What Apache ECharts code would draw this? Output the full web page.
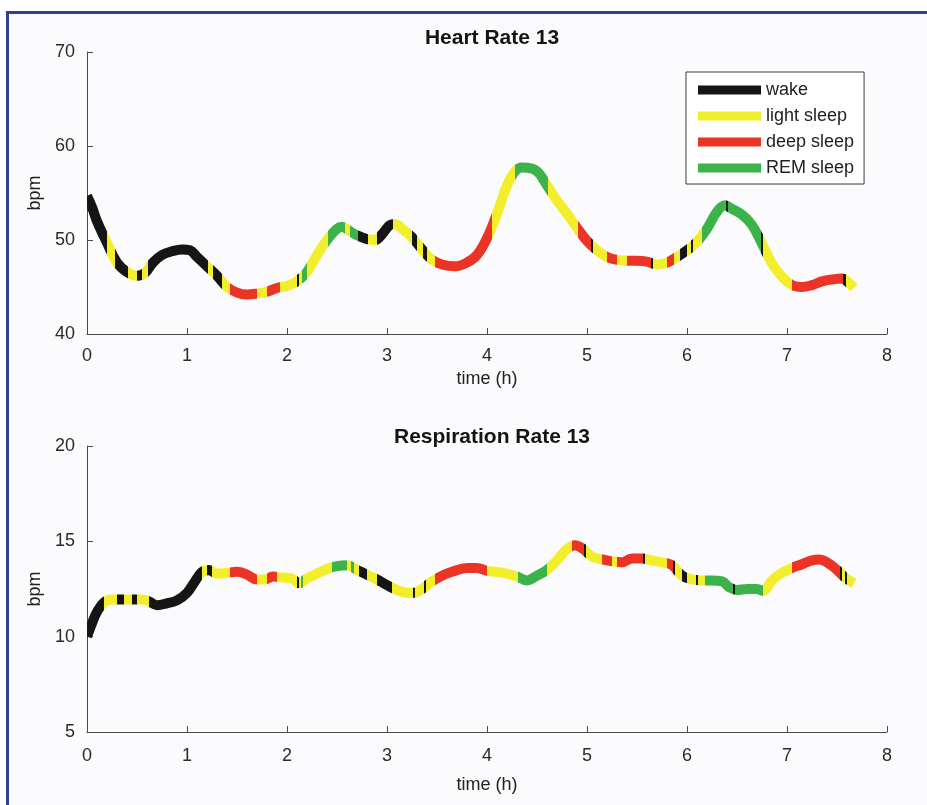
<!DOCTYPE html>
<html>
<head>
<meta charset="UTF-8">
<script src="https://cdn.jsdelivr.net/npm/echarts@6/dist/echarts.min.js"></script>
<style type="text/css">
body{ margin:0; background:#fff; }
#frame{
	position:absolute; left:6px; top:11px; width:930px; height:800px;
	border-top:3px solid #2d4392; border-left:3px solid #2d4392;
	background:#fbfbfd;
}
#main{ position:absolute; left:0; top:0; width:927px; height:805px; }
</style>
</head>
<body>
	<div id="frame"></div>
	<div id="main"></div>
	<script type="text/javascript">
		// 心率曲线 (时间 h, bpm)
		var hrTime = [0.00,0.05,0.10,0.20,0.30,0.40,0.50,0.58,0.66,0.75,0.85,0.95,1.03,1.10,1.20,1.30,1.40,1.50,1.60,1.70,
			1.80,1.90,2.00,2.10,2.20,2.30,2.40,2.50,2.55,2.62,2.70,2.80,2.88,2.95,3.03,3.08,3.15,3.25,3.35,3.45,
			3.55,3.68,3.80,3.90,4.00,4.10,4.20,4.28,4.35,4.45,4.52,4.60,4.70,4.80,4.90,5.00,5.10,5.20,5.30,5.40,
			5.50,5.60,5.70,5.80,5.90,6.00,6.10,6.20,6.30,6.38,6.45,6.55,6.65,6.75,6.85,6.95,7.05,7.15,7.25,7.35,
			7.45,7.55,7.62,7.67];
		var hrValue = [54.7,53.5,52.0,49.7,47.6,46.6,46.2,46.5,47.6,48.4,48.8,49.0,48.9,48.2,47.2,46.2,45.0,44.4,44.2,44.3,
			44.5,44.9,45.1,45.6,46.6,48.4,50.0,51.2,51.4,51.0,50.5,50.1,50.0,50.6,51.6,51.7,51.2,50.3,49.0,47.9,
			47.4,47.2,47.6,48.4,50.2,52.8,55.8,57.3,57.7,57.6,57.1,55.8,54.2,52.8,51.3,49.9,48.9,48.2,47.9,47.8,
			47.8,47.7,47.4,47.6,48.2,48.9,49.8,51.2,53.0,53.7,53.3,52.7,51.6,49.6,47.5,46.1,45.2,45.0,45.2,45.6,
			45.8,45.9,45.4,44.9];
		// 心率曲线的睡眠阶段：起始时间 + 阶段 (W 清醒, L 浅睡, D 深睡, R REM)
		var hrStageStart = [0,0.20,0.28,0.41,0.50,0.55,0.61,1.21,1.26,1.35,1.43,1.70,1.80,1.93,2.10,2.12,2.15,2.20,2.41,2.58,
			2.63,2.71,2.81,2.90,3.06,3.25,3.30,3.36,3.40,3.48,4.05,4.28,4.61,4.91,5.04,5.06,5.20,5.30,5.40,5.64,
			5.66,5.80,5.87,5.93,6.00,6.04,6.06,6.15,6.39,6.41,6.74,6.76,7.05,7.56,7.59];
		var hrStageType = ['W','L','W','L','W','L','W','L','W','L','D','L','D','L','W','L','R','L','R','L',
			'R','W','L','W','L','W','L','W','L','D','L','R','L','D','W','L','D','L','D','W',
			'L','D','L','W','L','W','L','R','W','R','W','L','D','W','L'];

		// 呼吸频率曲线
		var rrTime = [0.00,0.05,0.10,0.17,0.25,0.35,0.45,0.55,0.62,0.70,0.80,0.90,1.00,1.08,1.15,1.22,1.30,1.40,1.50,1.60,
			1.70,1.78,1.86,1.95,2.05,2.12,2.20,2.30,2.40,2.50,2.60,2.70,2.80,2.90,3.00,3.10,3.20,3.27,3.35,3.45,
			3.55,3.65,3.80,3.90,4.00,4.10,4.20,4.30,4.40,4.50,4.60,4.70,4.80,4.88,4.96,5.05,5.15,5.25,5.35,5.45,
			5.55,5.65,5.75,5.85,5.95,6.05,6.15,6.25,6.35,6.42,6.50,6.60,6.70,6.76,6.85,6.95,7.05,7.15,7.25,7.32,
			7.40,7.50,7.58,7.67];
		var rrValue = [10.0,10.7,11.3,11.8,11.95,11.95,11.95,11.95,11.85,11.65,11.75,11.9,12.3,12.9,13.4,13.5,13.3,13.35,13.4,13.25,
			13.0,13.0,13.15,13.1,13.05,12.8,13.05,13.3,13.55,13.7,13.75,13.5,13.25,13.0,12.7,12.45,12.3,12.3,12.5,12.9,
			13.2,13.4,13.6,13.6,13.45,13.4,13.3,13.15,12.95,13.2,13.5,14.0,14.6,14.8,14.6,14.2,14.05,13.95,13.9,14.1,
			14.1,14.0,13.9,13.75,13.2,13.0,12.95,12.95,12.9,12.6,12.45,12.5,12.5,12.4,12.95,13.35,13.6,13.8,14.0,14.05,
			13.9,13.5,13.1,12.8];
		var rrStageStart = [0,0.17,0.30,0.37,0.45,0.50,0.62,1.15,1.20,1.25,1.43,1.70,1.80,1.90,2.10,2.12,2.14,2.16,2.45,2.60,
			2.64,2.67,2.72,2.80,2.90,3.05,3.26,3.28,3.37,3.39,3.48,4.00,4.31,4.60,4.85,4.97,4.99,5.15,5.25,5.30,
			5.56,5.58,5.80,5.86,5.88,5.95,6.00,6.09,6.11,6.18,6.46,6.48,6.76,7.05,7.53,7.55,7.58,7.60];
		var rrStageType = ['W','L','W','L','W','L','W','L','W','L','D','L','D','L','W','L','R','L','R','L',
			'R','L','W','L','W','L','W','L','W','L','D','L','R','L','D','W','L','D','L','D',
			'W','L','D','W','L','W','L','W','L','R','W','R','L','D','W','L','W','L'];

		var stageNames = ['wake','light sleep','deep sleep','REM sleep'];
		var stageKeys = ['W','L','D','R'];
		var stageColor = {W:'#151515', L:'#f3ee2c', D:'#ec3426', R:'#3bb34a'};

		function toPoints(ts, vs){
			return ts.map(function(t,i){ return [t, vs[i]]; });
		}
		function stagePieces(starts, types){	//按阶段分段着色
			return starts.map(function(s,i){
				var p = {gte:s, color:stageColor[types[i]]};
				if(i < starts.length-1) p.lt = starts[i+1];
				return p;
			});
		}

		var axisColor = '#4a4a4a';
		var font = 'Liberation Sans, Arial, sans-serif';
		function xAx(grid, gap, margin){
			return {
				gridIndex:grid, type:'value', min:0, max:8, interval:1,
				name:'time (h)', nameLocation:'middle', nameGap:gap,
				nameTextStyle:{fontSize:18, color:'#222', fontFamily:font},
				axisLine:{lineStyle:{color:axisColor, width:1}},
				axisTick:{inside:true, length:6, lineStyle:{color:axisColor}},
				axisLabel:{fontSize:18, color:'#2a2a2a', margin:margin, fontFamily:font},
				splitLine:{show:false}
			};
		}
		function yAx(grid, mn, mx, step){
			return {
				gridIndex:grid, type:'value', min:mn, max:mx, interval:step,
				name:'bpm', nameLocation:'middle', nameGap:38, nameRotate:90,
				nameTextStyle:{fontSize:18, color:'#222', fontFamily:font},
				axisLine:{show:true, lineStyle:{color:axisColor, width:1}},
				axisTick:{show:true, inside:true, length:6, lineStyle:{color:axisColor}},
				axisLabel:{fontSize:18, color:'#2a2a2a', margin:12, fontFamily:font},
				splitLine:{show:false}
			};
		}

		var series = [
			{type:'line', xAxisIndex:0, yAxisIndex:0, data:toPoints(hrTime, hrValue), smooth:0.4,
				showSymbol:false, lineStyle:{width:10, cap:'butt', join:'round'}, z:3},
			{type:'line', xAxisIndex:1, yAxisIndex:1, data:toPoints(rrTime, rrValue), smooth:0.4,
				showSymbol:false, lineStyle:{width:10, cap:'butt', join:'round'}, z:3}
		];
		//图例用的空系列
		stageKeys.forEach(function(k,i){
			series.push({type:'line', name:stageNames[i], xAxisIndex:0, yAxisIndex:0, data:[],
				color:stageColor[k], itemStyle:{color:stageColor[k]}});
		});

		var myChart = echarts.init(document.getElementById('main'), null, {renderer:'canvas'});
		var option = {
			animation:false,
			textStyle:{fontFamily:font},
			title:[
				{text:'Heart Rate 13', left:487, top:23, textAlign:'center',
					textStyle:{fontSize:21, fontWeight:'bold', color:'#141414', fontFamily:font}},
				{text:'Respiration Rate 13', left:487, top:422, textAlign:'center',
					textStyle:{fontSize:21, fontWeight:'bold', color:'#141414', fontFamily:font}}
			],
			grid:[
				{left:87, top:52, width:800, height:282},
				{left:87, top:446, width:800, height:286}
			],
			xAxis:[xAx(0, 36, 13), xAx(1, 44, 15)],
			yAxis:[yAx(0, 40, 70, 10), yAx(1, 5, 20, 5)],
			visualMap:[
				{type:'piecewise', show:false, dimension:0, seriesIndex:0, pieces:stagePieces(hrStageStart, hrStageType)},
				{type:'piecewise', show:false, dimension:0, seriesIndex:1, pieces:stagePieces(rrStageStart, rrStageType)}
			],
			legend:{
				orient:'vertical', left:686, top:72,
				data:stageNames.map(function(n,i){
					return {name:n, icon:'rect', itemStyle:{color:stageColor[stageKeys[i]]}};
				}),
				itemWidth:63, itemHeight:9, itemGap:8,
				borderColor:'#3a3a3a', borderWidth:1, padding:[9,10,7,12],
				backgroundColor:'#fff',
				textStyle:{fontSize:18, lineHeight:18, color:'#222', fontFamily:font},
				selectedMode:false
			},
			series:series
		};
		myChart.setOption(option);
	</script>
</body>
</html>
